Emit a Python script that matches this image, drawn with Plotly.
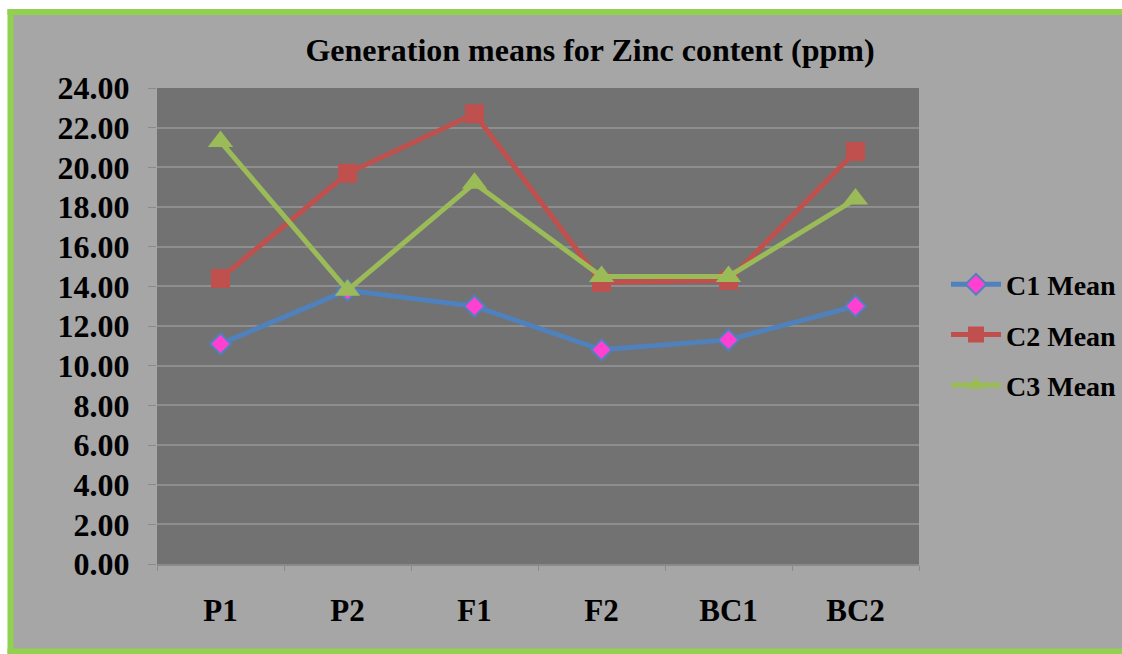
import plotly.graph_objects as go

categories = ["P1", "P2", "F1", "F2", "BC1", "BC2"]
c1_mean = [11.1, 13.8, 13.0, 10.8, 11.3, 13.0]
c2_mean = [14.4, 19.7, 22.7, 14.2, 14.3, 20.8]
c3_mean = [21.3, 13.8, 19.2, 14.5, 14.5, 18.4]
series_names = ["C1 Mean", "C2 Mean", "C3 Mean"]
y_ticks = [0, 2, 4, 6, 8, 10, 12, 14, 16, 18, 20, 22, 24]

W, H = 1122, 654
L, T = 157, 88
R = W - 919
B = H - 564
pw, ph = W - L - R, H - T - B

def px_x(p):
    return (p - L) / pw

def px_y(p):
    return (H - B - p) / ph

FONT = "Liberation Serif"
GREEN = "#92d050"

fig = go.Figure()
fig.add_trace(go.Scatter(
    x=categories, y=c1_mean, name=series_names[0], mode="lines+markers",
    line=dict(color="#4f81bd", width=5),
    marker=dict(symbol="diamond", size=16, color="#ff40d0", line=dict(color="#4f81bd", width=2)),
    legendgroup="g1"))
fig.add_trace(go.Scatter(
    x=categories, y=c2_mean, name=series_names[1], mode="lines+markers",
    line=dict(color="#c0504d", width=5),
    marker=dict(symbol="square", size=19, color="#c0504d"),
    legendgroup="g2"))
fig.add_trace(go.Scatter(
    x=categories, y=c3_mean, name=series_names[2], mode="lines+markers",
    line=dict(color="#9bbb59", width=5),
    marker=dict(symbol="triangle-up", size=22, color="#9bbb59"),
    legendgroup="g3"))

# outer chart area fill
fig.add_shape(type="rect", xref="paper", yref="paper", layer="below",
              x0=px_x(10.5), x1=px_x(1122), y0=px_y(12), y1=px_y(651),
              line=dict(width=0), fillcolor="#a6a6a6")
# plot area fill
fig.add_shape(type="rect", xref="paper", yref="paper", layer="below",
              x0=0, x1=1, y0=0, y1=1, line=dict(width=0), fillcolor="#727272")
# green frame: top, left, bottom (right edge is off-page in the original)
fig.add_shape(type="line", xref="paper", yref="paper", layer="above",
              x0=px_x(7.5), x1=px_x(1122), y0=px_y(12), y1=px_y(12),
              line=dict(color=GREEN, width=6))
fig.add_shape(type="line", xref="paper", yref="paper", layer="above",
              x0=px_x(10.5), x1=px_x(10.5), y0=px_y(9), y1=px_y(654),
              line=dict(color=GREEN, width=6))
fig.add_shape(type="line", xref="paper", yref="paper", layer="above",
              x0=px_x(7.5), x1=px_x(1122), y0=px_y(651.5), y1=px_y(651.5),
              line=dict(color=GREEN, width=6))

fig.update_layout(
    width=W, height=H,
    margin=dict(l=L, r=R, t=T, b=B, autoexpand=False),
    paper_bgcolor="white",
    plot_bgcolor="#727272",
    font=dict(family=FONT, color="black", weight="bold"),
    title=dict(text="Generation means for Zinc content (ppm)",
               font=dict(family=FONT, size=32, color="black", weight="bold"),
               x=590 / W, xanchor="center", xref="container",
               y=1 - 50 / H, yanchor="middle", yref="container"),
    xaxis=dict(type="category", showgrid=False, showline=True, linecolor="#8a8a8a", linewidth=2,
               ticks="outside", tickson="boundaries", ticklen=5, tickcolor="#8a8a8a",
               tickfont=dict(family=FONT, size=31, color="black", weight="bold"),
               ticklabelstandoff=18, range=[-0.5, 5.5], zeroline=False),
    yaxis=dict(range=[0, 24], tickvals=y_ticks, tickformat=".2f",
               showgrid=True, gridcolor="#8e8e8e", gridwidth=2,
               showline=False, zeroline=False,
               ticks="outside", ticklen=8, tickcolor="#8a8a8a",
               tickfont=dict(family=FONT, size=32, color="black", weight="bold"),
               ticklabelstandoff=12),
    legend=dict(x=px_x(946), xanchor="left", y=px_y(335), yanchor="middle",
                bgcolor="rgba(0,0,0,0)",
                font=dict(family=FONT, size=28, color="black", weight="bold"),
                tracegroupgap=11, itemwidth=50),
    showlegend=True,
)

fig.write_html("out.html", config={"displayModeBar": False},
               post_script="document.body.style.margin='0';document.body.style.overflow='hidden';")
